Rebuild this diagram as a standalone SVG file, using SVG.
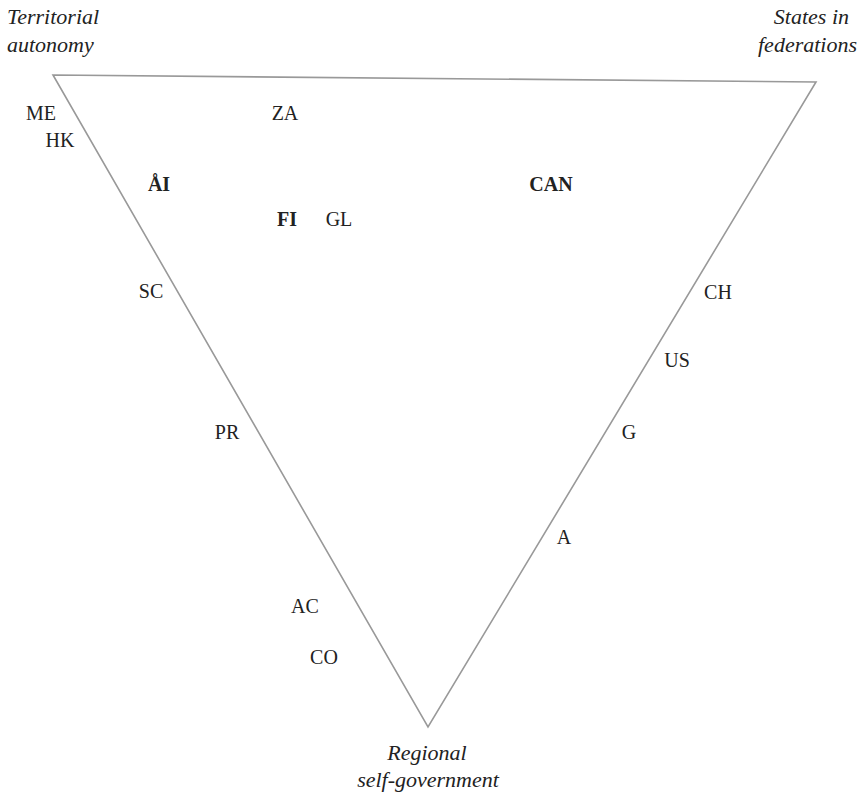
<svg xmlns="http://www.w3.org/2000/svg" width="862" height="796" viewBox="0 0 862 796">
<style>
text{font-family:"Liberation Serif","DejaVu Serif",serif;font-size:20px;fill:#222;text-anchor:middle}
.c{font-style:italic;font-size:22px}
.b{font-weight:bold}
.edge{fill:none;stroke:#999;stroke-width:1.6}
</style>
<rect width="862" height="796" fill="#fff"/>
<g id="connectors">
<polygon class="edge" points="53,75 816,82 428,727"/>
</g>
<g id="corner-territorial"><text class="c" x="7" y="24" style="text-anchor:start">Territorial</text><text class="c" x="7" y="52" style="text-anchor:start">autonomy</text></g>
<g id="corner-states"><text class="c" x="849" y="24" style="text-anchor:end">States in</text><text class="c" x="857" y="52" style="text-anchor:end">federations</text></g>
<g id="corner-regional"><text class="c" x="427" y="760">Regional</text><text class="c" x="428" y="787">self-government</text></g>
<g id="ME"><text x="41" y="120">ME</text></g>
<g id="HK"><text x="60" y="147">HK</text></g>
<g id="ZA"><text x="285" y="120">ZA</text></g>
<g id="AI"><text class="b" x="159" y="191">ÅI</text></g>
<g id="CAN"><text class="b" x="551" y="191">CAN</text></g>
<g id="FI"><text class="b" x="287" y="226">FI</text></g>
<g id="GL"><text x="339" y="226">GL</text></g>
<g id="SC"><text x="151" y="298">SC</text></g>
<g id="CH"><text x="718" y="299">CH</text></g>
<g id="US"><text x="677" y="367">US</text></g>
<g id="PR"><text x="227" y="439">PR</text></g>
<g id="G"><text x="629" y="439">G</text></g>
<g id="A"><text x="564" y="544">A</text></g>
<g id="AC"><text x="305" y="613">AC</text></g>
<g id="CO"><text x="324" y="664">CO</text></g>
</svg>
